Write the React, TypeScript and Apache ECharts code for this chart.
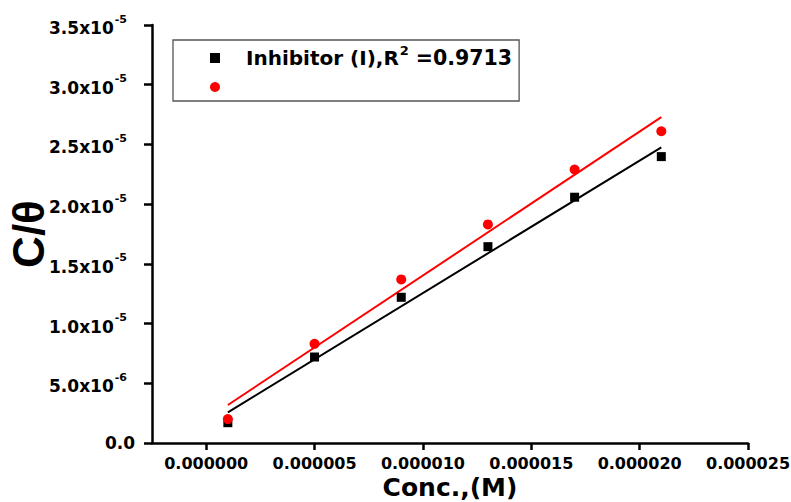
import React, { useEffect, useRef } from "react";
import * as echarts from "echarts";

// ---- data ----
const concValues = [1e-6, 5e-6, 9e-6, 1.3e-5, 1.7e-5, 2.1e-5];
const blackValues = [1.7e-6, 7.2e-6, 12.2e-6, 16.44e-6, 20.58e-6, 23.98e-6];
const redValues = [2.0e-6, 8.3e-6, 13.7e-6, 18.3e-6, 22.9e-6, 26.1e-6];

// fitted lines (end points as drawn)
const fitX = [1e-6, 2.1e-5];
const blackFitY = [2.57e-6, 2.476e-5];
const redFitY = [3.18e-6, 2.728e-5];

// ticks
const xTickValues = [0, 5e-6, 1e-5, 1.5e-5, 2e-5, 2.5e-5];
const xTickLabels = ["0.000000", "0.000005", "0.000010", "0.000015", "0.000020", "0.000025"];
const yTickMantissa = ["0.0", "5.0", "1.0", "1.5", "2.0", "2.5", "3.0", "3.5"];
const yTickExponent = ["", "-6", "-5", "-5", "-5", "-5", "-5", "-5"];

const blackName = "Inhibitor (I),R2 =0.9713";
const redName = " ";

const BOLD_FONT = "DejaVu Sans";

export default function App() {
  const ref = useRef<HTMLDivElement>(null);

  useEffect(() => {
    if (!ref.current) return;
    const chart = echarts.init(ref.current, null, { renderer: "svg" });

    const option: any = {
      animation: false,
      backgroundColor: "#ffffff",
      grid: { left: 152, right: 43, top: 25, bottom: 59, containLabel: false, outerBoundsMode: "none" },
      legend: {
        orient: "vertical",
        left: 173,
        top: 40,
        padding: [4, 7, 0, 37],
        itemGap: 1,
        itemWidth: 10,
        itemHeight: 10,
        borderColor: "#555",
        borderWidth: 1.3,
        selectedMode: false,
        data: [blackName, redName],
        formatter: (name: string) =>
          name === blackName ? "{p|Inhibitor (I),R}{s|2}{a|=0.9713}" : " ",
        textStyle: {
          fontFamily: BOLD_FONT,
          fontWeight: "bold",
          fontSize: 20,
          lineHeight: 28,
          color: "#000",
          rich: {
            p: { fontFamily: BOLD_FONT, fontWeight: "bold", fontSize: 20, lineHeight: 28, padding: [0, 0, 0, 21], color: "#000" },
            a: { fontFamily: BOLD_FONT, fontWeight: "bold", fontSize: 20.5, lineHeight: 28, color: "#000" },
            s: { fontFamily: BOLD_FONT, fontWeight: "bold", fontSize: 13, lineHeight: 13, verticalAlign: "top", padding: [0, 7, 0, 1], color: "#000" },
          },
        },
      },
      xAxis: {
        type: "value",
        min: -2.5e-6,
        max: 2.5e-5,
        name: "Conc.,(M)",
        nameLocation: "middle",
        nameGap: 32,
        nameMoveOverlap: false,
        nameTextStyle: { fontFamily: BOLD_FONT, fontWeight: "bold", fontSize: 25, color: "#000" },
        splitLine: { show: false },
        axisLine: { show: true, onZero: false, lineStyle: { color: "#000", width: 2.5 } },
        axisTick: { show: true, customValues: xTickValues, length: 7, lineStyle: { color: "#000", width: 2.5 } },
        axisLabel: {
          customValues: xTickValues,
          margin: 12,
          fontFamily: BOLD_FONT,
          fontWeight: "bold",
          fontSize: 16,
          color: "#000",
          formatter: (v: number) => {
            const i = xTickValues.findIndex((t) => Math.abs(t - v) < 1e-9);
            return i >= 0 ? xTickLabels[i] : "";
          },
        },
      },
      yAxis: {
        type: "value",
        min: 0,
        max: 3.5e-5,
        interval: 5e-6,
        name: "C/θ",
        nameLocation: "middle",
        nameRotate: 90,
        nameGap: 102,
        nameMoveOverlap: false,
        nameTextStyle: { fontFamily: "Liberation Sans", fontWeight: "bold", fontSize: 44, color: "#000" },
        splitLine: { show: false },
        axisLine: { show: true, onZero: false, lineStyle: { color: "#000", width: 2.5 } },
        axisTick: { show: true, length: 8, lineStyle: { color: "#000", width: 2.5 } },
        axisLabel: {
          margin: 17,
          color: "#000",
          formatter: (v: number) => {
            const i = Math.round(v / 5e-6);
            const m = yTickMantissa[i];
            const e = yTickExponent[i];
            return e ? `{m|${m}x10}{e|${e}}` : `{z|${m}}`;
          },
          rich: {
            m: { fontFamily: BOLD_FONT, fontWeight: "bold", fontSize: 17, color: "#000", padding: [6, 0, 0, 0] },
            z: { fontFamily: BOLD_FONT, fontWeight: "bold", fontSize: 17, color: "#000" },
            e: { fontFamily: BOLD_FONT, fontWeight: "bold", fontSize: 11, color: "#000", verticalAlign: "top", padding: [0, 8, 0, 1] },
          },
        },
      },
      series: [
        {
          name: blackName,
          type: "scatter",
          symbol: "rect",
          symbolSize: 9,
          itemStyle: { color: "#000", opacity: 1 },
          data: concValues.map((x, i) => [x, blackValues[i]]),
          z: 3,
        },
        {
          name: redName,
          type: "scatter",
          symbol: "circle",
          symbolSize: 10,
          itemStyle: { color: "#ff0000", opacity: 1 },
          data: concValues.map((x, i) => [x, redValues[i]]),
          z: 4,
        },
        {
          name: "black fit",
          type: "line",
          symbol: "none",
          lineStyle: { color: "#000", width: 2 },
          data: fitX.map((x, i) => [x, blackFitY[i]]),
          z: 2,
        },
        {
          name: "red fit",
          type: "line",
          symbol: "none",
          lineStyle: { color: "#ff0000", width: 2 },
          data: fitX.map((x, i) => [x, redFitY[i]]),
          z: 2,
        },
      ],
    };

    chart.setOption(option);
    return () => chart.dispose();
  }, []);

  return (
    <div
      ref={ref}
      style={{ position: "absolute", left: 0, top: 0, width: 791, height: 502, background: "#fff" }}
    />
  );
}
